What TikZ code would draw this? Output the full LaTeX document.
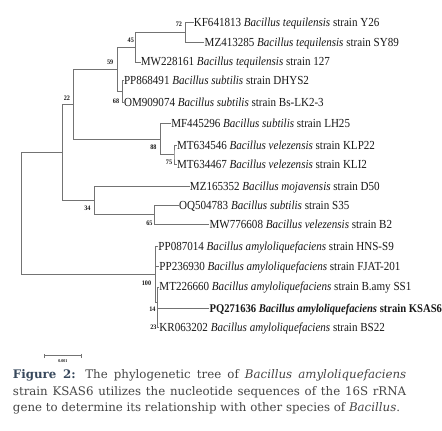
\documentclass[tikz,border=0pt]{standalone}
\usepackage{fontspec}
\usetikzlibrary{arrows.meta}
\newfontfamily\leaffont[FakeStretch=0.90]{Liberation Serif}
\newfontfamily\capfont{DejaVu Serif}
\definecolor{phyloGray}{RGB}{115,115,115}
\definecolor{phyloInk}{RGB}{25,25,25}
\definecolor{phyloCap}{RGB}{70,70,70}
\definecolor{phyloSlate}{RGB}{55,72,92}

\begin{document}
\begin{tikzpicture}[x=1pt, y=-1pt,
    branch/.style={draw=phyloGray, line width=0.8pt},
    leaf/.style={anchor=west, inner sep=0pt, text height=9pt, text depth=1pt, text=phyloInk, font=\leaffont\fontsize{12.5}{14}\selectfont},
    boot/.style={inner sep=0pt, text=phyloInk, font=\leaffont\bfseries\fontsize{7}{8}\selectfont},
    capbox/.style={anchor=north west, inner sep=0pt, text width=400pt, align=justify, text=phyloCap, font=\capfont\fontsize{12}{16.6}\selectfont}
  ]
    \fill[white] (0,0) rectangle (442,438);

    \node[leaf] (kf641) at (197,23) {KF641813 \textit{Bacillus tequilensis} strain Y26};
    \node[leaf] (mz413) at (208,43) {MZ413285 \textit{Bacillus tequilensis} strain SY89};
    \node[leaf] (mw228) at (143,63) {MW228161 \textit{Bacillus tequilensis} strain 127};
    \node[leaf] (pp868) at (126,82) {PP868491 \textit{Bacillus subtilis} strain DHYS2};
    \node[leaf] (om909) at (126,104) {OM909074 \textit{Bacillus subtilis} strain Bs-LK2-3};
    \node[leaf] (mf445) at (174,126) {MF445296 \textit{Bacillus subtilis} strain LH25};
    \node[leaf] (mt546) at (180,148) {MT634546 \textit{Bacillus velezensis} strain KLP22};
    \node[leaf] (mt467) at (180,167) {MT634467 \textit{Bacillus velezensis} strain KLI2};
    \node[leaf] (mz165) at (193,190) {MZ165352 \textit{Bacillus mojavensis} strain D50};
    \node[leaf] (oq504) at (182,209) {OQ504783 \textit{Bacillus subtilis} strain S35};
    \node[leaf] (mw776) at (213,228) {MW776608 \textit{Bacillus velezensis} strain B2};
    \node[leaf] (pp087) at (161,251) {PP087014 \textit{Bacillus amyloliquefaciens} strain HNS-S9};
    \node[leaf] (pp236) at (162,271) {PP236930 \textit{Bacillus amyloliquefaciens} strain FJAT-201};
    \node[leaf] (mt226) at (162,292) {MT226660 \textit{Bacillus amyloliquefaciens} strain B.amy SS1};
    \node[leaf, font=\leaffont\bfseries\fontsize{12}{14}\selectfont] (pq271) at (213,314) {PQ271636 \textit{Bacillus amyloliquefaciens} strain KSAS6};
    \node[leaf] (kr063) at (162,333) {KR063202 \textit{Bacillus amyloliquefaciens} strain BS22};

    \coordinate (n72) at (189,33);
    \coordinate (n45) at (138,48);
    \coordinate (n68) at (124,93);
    \coordinate (n59) at (119,70.5);
    \coordinate (n75) at (177,157.5);
    \coordinate (n88) at (163,141.8);
    \coordinate (n22) at (75,106.1);
    \coordinate (n65) at (157,218.5);
    \coordinate (n34) at (96,204.3);
    \coordinate (nin) at (63,155.2);
    \coordinate (n23) at (160.5,323.5);
    \coordinate (n14) at (160,307.8);
    \coordinate (n100) at (158,279.4);
    \coordinate (root) at (22,217.3);

    \draw[branch] (kf641.west) -| (n72) |- (mz413.west);
    \draw[branch] (n72) -| (n45) |- (mw228.west);
    \draw[branch] (pp868.west) -| (n68) |- (om909.west);
    \draw[branch] (n45) -| (n59) |- (n68);
    \draw[branch] (mt546.west) -| (n75) |- (mt467.west);
    \draw[branch] (mf445.west) -| (n88) |- (n75);
    \draw[branch] (n59) -| (n22) |- (n88);
    \draw[branch] (oq504.west) -| (n65) |- (mw776.west);
    \draw[branch] (mz165.west) -| (n34) |- (n65);
    \draw[branch] (n22) -| (nin) |- (n34);
    \draw[branch] (pq271.west) -| (n23) |- (kr063.west);
    \draw[branch] (mt226.west) -| (n14) |- (n23);
    \draw[branch] (pp087.west) -| (n100) |- (n14);
    \draw[branch] (n100) |- (pp236.west);
    \draw[branch] (nin) -| (root) |- (n100);

    \node[boot] (b72) at (182,25) {72};
    \node[boot] (b45) at (133,41) {45};
    \node[boot] (b59) at (112,63) {59};
    \node[boot] (b22) at (68,100) {22};
    \node[boot] (b68) at (118,103) {68};
    \node[boot] (b88) at (156,150) {88};
    \node[boot] (b75) at (172,165) {75};
    \node[boot] (b34) at (89,212) {34};
    \node[boot] (b65) at (152,227) {65};
    \node[boot] (b100) at (149,288) {100};
    \node[boot] (b14) at (155,315) {14};
    \node[boot] (b23) at (156,333) {23};

    \coordinate (sbl) at (45,362);
    \coordinate (sbr) at (83,362);
    \draw[branch, line width=0.9pt, {Bar[width=4pt]}-{Bar[width=4pt]}] (sbl) -- (sbr);
    \node[boot, font=\leaffont\bfseries\fontsize{4.5}{5}\selectfont] (sbtext) at (64,367.5) {0.001};

    \node[capbox] (cap) at (13,376) {{\color{phyloSlate}\bfseries Figure 2:} The phylogenetic tree of \textit{Bacillus amyloliquefaciens} strain KSAS6 utilizes the nucleotide sequences of the 16S rRNA gene to determine its relationship with other species of \textit{Bacillus}.};
\end{tikzpicture}
\end{document}
